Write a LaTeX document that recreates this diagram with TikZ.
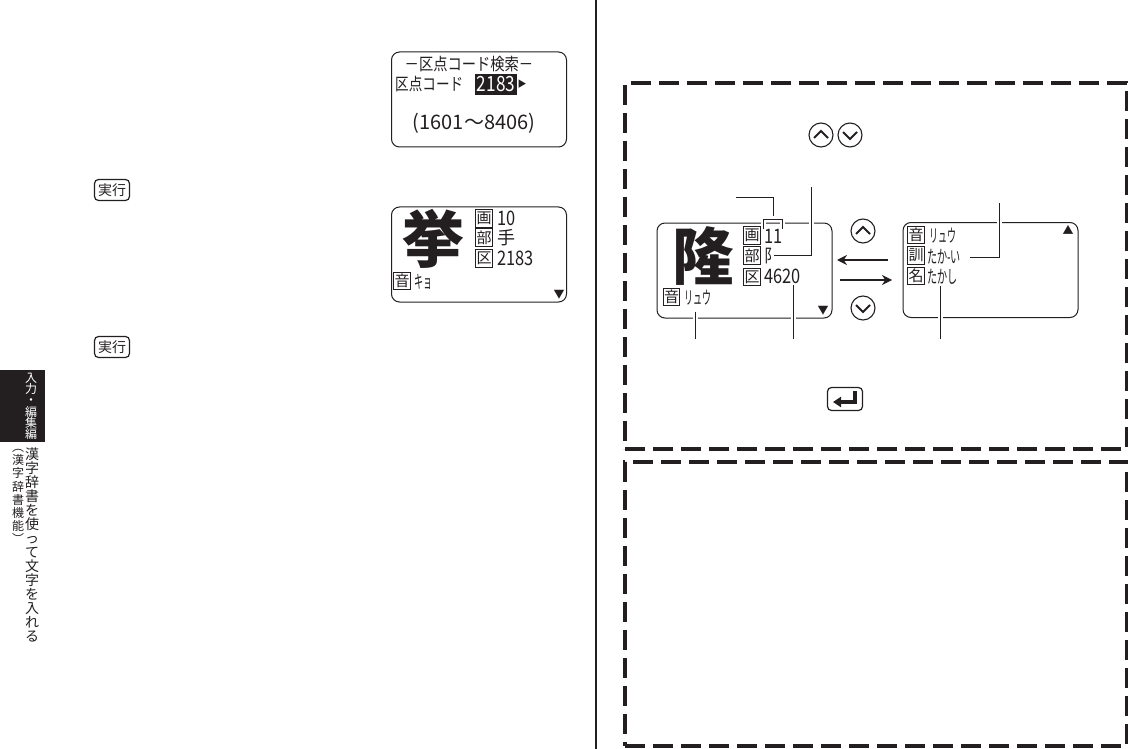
\documentclass[tikz,border=0pt]{standalone}
\usepackage{fontspec}
\usepackage{graphicx}
\usepackage{xcolor}
\setmainfont{Noto Sans CJK JP}
\usetikzlibrary{arrows.meta, positioning, calc}
\definecolor{tinta}{HTML}{231F20}
\newcommand{\estrecho}[2][.82]{\scalebox{#1}[1]{#2}}
\newcommand{\tam}[1]{\fontsize{#1}{#1}\selectfont}

\begin{document}
\begin{tikzpicture}[
  x=1pt, y=-1pt,
  pantalla/.style={rectangle, rounded corners=8pt, draw=tinta, line width=1pt, fill=white,
                 minimum width=175pt, minimum height=95pt, inner sep=0pt},
  marca/.style={rectangle, draw=tinta, line width=1.2pt, minimum width=16.5pt, minimum height=17.5pt,
                 inner sep=0pt, font=\tam{15}, text=tinta},
  lcd/.style={anchor=west, inner sep=0pt, text=tinta, font=\tam{20}},
  kana/.style={anchor=west, inner sep=0pt, text=tinta, font=\tam{18}},
  grande/.style={inner sep=0pt, text=tinta, font=\bfseries\tam{62}},
  tecla/.style={rectangle, rounded corners=4pt, draw=tinta, line width=1.2pt,
                 minimum width=35pt, minimum height=21pt, inner sep=0pt, font=\tam{14}, text=tinta},
  boton/.style={circle, draw=tinta, line width=1.1pt, minimum size=24pt, inner sep=0pt},
  chev/.style={line width=2.1pt, tinta},
  corte/.style={rectangle, draw=tinta, line width=4pt, dash pattern=on 20pt off 8pt},
  guia/.style={line width=.9pt, tinta, preaction={draw=white, line width=5pt}},
  flecha/.style={-{Stealth[length=10pt, width=10pt]}, line width=1.1pt, tinta},
  columna/.style={inner sep=0pt, align=center, text width=16pt, anchor=north},
]
\useasboundingbox (0,0) rectangle (1128,749);

% --- Separador de pagina ---
\coordinate (sepa) at (596,0);
\coordinate (sepb) at (596,749);
\draw[line width=2pt, tinta] (sepa) -- (sepb);

% --- Pestana lateral ---
\node[rectangle, fill=tinta, minimum width=45pt, minimum height=72pt, inner sep=0pt] (pestana) at (22.5,406) {};
\node[columna, text=white, font=\fontsize{12}{11.2}\selectfont] (ptexto) at (31,373) {入\\力\\・\\編\\集\\編};
\node[columna, text=tinta, font=\fontsize{14}{14}\selectfont] (ltitulo) at (32,448) {漢\\字\\辞\\書\\を\\使\\っ\\て\\文\\字\\を\\入\\れ\\る};
\node[columna, text=tinta, font=\fontsize{12}{13.2}\selectfont] (lsub) at (18,449) {︵\\漢\\字\\辞\\書\\機\\能\\︶};

% --- Teclas ---
\node[tecla] (ejea) at (112,190) {実行};
\node[tecla] (ejeb) at (112,347) {実行};

% --- Pantalla de busqueda ---
\node[pantalla] (busca) at (479,99.5) {};
\node[inner sep=0pt, text=tinta, font=\tam{17}] (btitulo) at (469,64) {\estrecho[.84]{－区点コード検索－}};
\node[kana, font=\tam{17}] (bcampo) at (395,84) {\estrecho[.8]{区点コード}};
\node[rectangle, fill=tinta, minimum width=42pt, minimum height=21pt, inner sep=0pt, text=white, font=\tam{21}] (bcodigo) at (496,84.5) {\estrecho{2183}};
\node[inner sep=0pt, text=tinta, font=\tam{9}] (bcursor) at (522,84.5) {▶};
\node[inner sep=0pt, text=tinta, font=\tam{20}] (brango) at (474,123) {(1601～8406)};

% --- Pantalla del kanji ---
\node[pantalla] (kyo) at (479,254.5) {};
\node[grande] (kyok) at (433,239) {挙};
\node[marca] (kkaku) at (484,218.5) {画};
\node[marca] (kbu) at (484,237.5) {部};
\node[marca] (kku) at (484,258.5) {区};
\node[marca] (kon) at (402,281) {音};
\node[lcd] (kn) at (497,218) {\estrecho{10}};
\node[kana] (kr) at (497,238) {手};
\node[lcd] (kc) at (497,258) {\estrecho{2183}};
\node[kana] (kl) at (414,282) {\estrecho[.5]{キョ}};
\node[inner sep=0pt, text=tinta, font=\tam{11}] (kbaja) at (559,295) {▼};

% --- Caja superior ---
\node[corte, minimum width=502pt, minimum height=366pt, inner sep=0pt] (cajaa) at (876,266) {};
\node[boton] (sube) at (821,135) {};
\node[boton] (baja) at (850,135) {};
\draw[chev] (sube) ++(-7,3) -- ++(7,-7) -- ++(7,7);
\draw[chev] (baja) ++(-7,-3) -- ++(7,7) -- ++(7,-7);

% --- Pantallas de ejemplo ---
\node[pantalla] (ryu) at (744.5,270.5) {};
\node[pantalla] (ryub) at (990.5,270) {};

% --- Lineas guia ---
\coordinate (gtrazo) at (736,197);
\coordinate (gcodo) at (773,197);
\coordinate (gpie) at (773,219);
\coordinate (gbu) at (811,187);
\coordinate (gon) at (695,339);
\coordinate (gku) at (793,339);
\coordinate (gkun) at (999,203);
\coordinate (gna) at (940,339);
\draw[guia] (gtrazo) -- (gcodo) -- (gpie);
\draw[guia] (763,229) |- (782,219) -- (782,229);
\draw[guia] (gbu) |- (774,255);
\draw[guia] (gon) -- (695,312);
\draw[guia] (gku) -- (793,285);
\draw[guia] (gkun) |- (970,257);
\draw[guia] (gna) -- (940,286);

% --- Contenido de las pantallas ---
\node[grande] (ryuk) at (703,256) {隆};
\node[marca] (rkaku) at (752,235.5) {画};
\node[marca] (rbu) at (752,255.5) {部};
\node[marca] (rku) at (752,277) {区};
\node[marca] (ron) at (671.5,297) {音};
\node[lcd] (rn) at (764,236) {\estrecho{11}};
\node[kana] (rr) at (764,256) {\estrecho[.8]{阝}};
\node[lcd] (rc) at (764,276) {\estrecho{4620}};
\node[kana] (rl) at (684,298) {\estrecho[.5]{リュウ}};
\node[inner sep=0pt, text=tinta, font=\tam{11}] (rbaja) at (823,311) {▼};
\node[marca] (bon) at (916,235) {音};
\node[marca] (bkun) at (916,255.5) {訓};
\node[marca] (bna) at (916,276) {名};
\node[kana] (bl) at (929,236) {\estrecho[.5]{リュウ}};
\node[kana] (bk) at (927,257) {\estrecho[.56]{たか-い}};
\node[kana] (bt) at (927,277) {\estrecho[.56]{たかし}};
\node[inner sep=0pt, text=tinta, font=\tam{11}] (bsube) at (1068,230) {▲};

% --- Paso entre pantallas ---
\node[boton] (psube) at (863,231) {};
\node[boton] (pbaja) at (863,308) {};
\draw[chev] (psube) ++(-7,3) -- ++(7,-7) -- ++(7,7);
\draw[chev] (pbaja) ++(-7,-3) -- ++(7,7) -- ++(7,-7);
\coordinate (fa) at (888,260);
\coordinate (fb) at (837,260);
\coordinate (fc) at (840,280);
\coordinate (fd) at (892,280);
\draw[flecha] (fa) -- (fb);
\draw[flecha] (fc) -- (fd);

% --- Tecla de confirmar ---
\node[tecla, minimum height=23pt] (intro) at (845,399) {};
\draw[line width=3.5pt, tinta, -{Triangle[length=8pt, width=10pt]}] (intro) ++(10,-8) |- ++(-22,11);

% --- Caja inferior ---
\node[corte, minimum width=502pt, minimum height=284pt, inner sep=0pt] (cajab) at (876,604) {};

\end{tikzpicture}
\end{document}
